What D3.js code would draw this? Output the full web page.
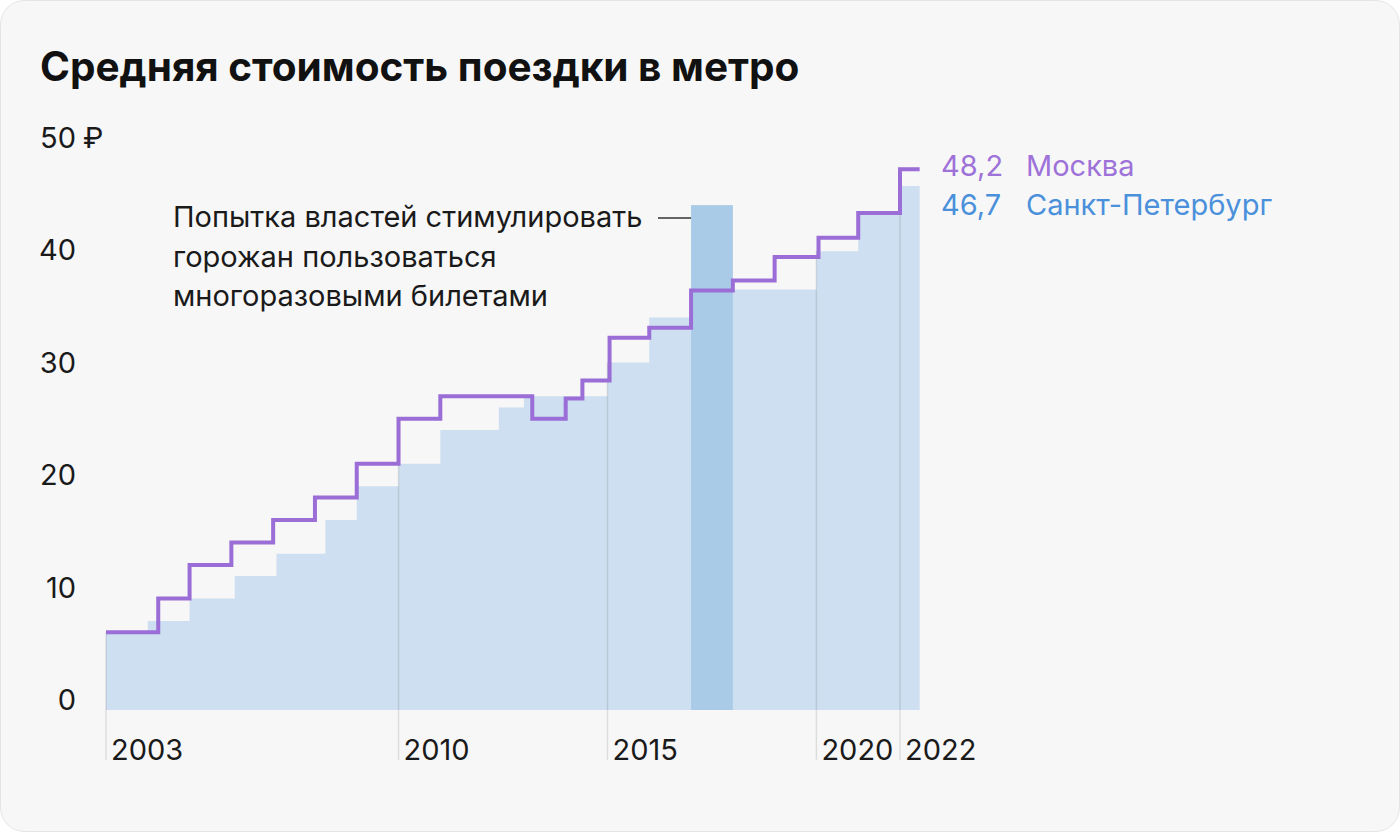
<!DOCTYPE html>
<html>
<head>
<meta charset="utf-8">
<script src="https://cdn.jsdelivr.net/npm/d3@7"></script>
<style>
  html, body { margin: 0; padding: 0; background: #ffffff; }
  svg { display: block; }
  text { font-family: Inter, Roboto, "Noto Sans", sans-serif; }
</style>
</head>
<body>
<svg id="chart" width="1400" height="832"></svg>
<script>
// ---- Data ----
const title = "Средняя стоимость поездки в метро";
const yTicks = [0, 10, 20, 30, 40, 50];
const xTickYears = [2003, 2010, 2015, 2020, 2022];
const endYear = 2022.47;

// Moscow: start of each fare period (decimal year) and fare, ₽
const moscowStart = [2003, 2004.25, 2005, 2006, 2007, 2008, 2009, 2010, 2011, 2013.2, 2014, 2014.4, 2015.05, 2016, 2017, 2018, 2019, 2020.05, 2021, 2022];
const moscowValue = [7, 10, 13, 15, 17, 19, 22, 26, 28, 26, 27.8, 29.4, 33.2, 34.1, 37.4, 38.3, 40.4, 42.1, 44.3, 48.2];

// Saint Petersburg
const spbStart = [2003, 2004, 2005, 2006.08, 2007.08, 2008.25, 2009, 2010, 2011, 2012.4, 2013, 2015, 2016, 2017, 2018, 2020, 2021, 2022];
const spbValue = [7, 8, 10, 12, 14, 17, 20, 22, 25, 27, 28, 31, 35, 45, 37.5, 40.9, 44.2, 46.7];
const spbHighlightIndex = 13;

const annotationLines = ["Попытка властей стимулировать", "горожан пользоваться", "многоразовыми билетами"];
const labels = [
  {value: "48,2", name: "Москва", series: "moscow"},
  {value: "46,7", name: "Санкт-Петербург", series: "spb"}
];

// ---- Styles ----
const colMoscow = "#9b6dd6";
const colMoscowText = "#9e72d9";
const colSpbText = "#4a90db";
const colBar = "#cddff0";
const colBarHi = "#a9cbe8";
const fs = 29;

const svg = d3.select("#chart");

// card
svg.append("rect")
  .attr("x", 0.5).attr("y", 0.5).attr("width", 1399).attr("height", 831)
  .attr("rx", 24).attr("ry", 24)
  .attr("fill", "#f7f7f7").attr("stroke", "#e4e4e4");

const x = d3.scaleLinear().domain([2003, 2022]).range([106, 900]);
const y = d3.scaleLinear().domain([0, 50]).range([711, 149]);

const mPts = moscowStart.map((s, i) => ({x: s, v: moscowValue[i]}));
mPts.push({x: endYear, v: moscowValue[moscowValue.length - 1]});
const sPts = spbStart.map((s, i) => ({x: s, v: spbValue[i]}));
sPts.push({x: endYear, v: spbValue[spbValue.length - 1]});

// SPb area
const area = d3.area().curve(d3.curveStepAfter)
  .x(d => x(d.x)).y0(y(0) - 1).y1(d => y(d.v));
svg.append("path").datum(sPts).attr("d", area).attr("fill", colBar);

// highlighted bar
const hi = spbHighlightIndex;
svg.append("rect")
  .attr("x", x(spbStart[hi]))
  .attr("width", x(spbStart[hi + 1]) - x(spbStart[hi]))
  .attr("y", y(spbValue[hi]))
  .attr("height", y(0) - 1 - y(spbValue[hi]))
  .attr("fill", colBarHi);

function spbAt(t) {
  let v = spbValue[0];
  for (let i = 0; i < spbStart.length; i++) if (spbStart[i] <= t + 1e-6) v = spbValue[i];
  return v;
}

// year tick lines
svg.append("g").selectAll("line").data(xTickYears).join("line")
  .attr("x1", d => x(d)).attr("x2", d => x(d))
  .attr("y1", 760).attr("y2", d => y(spbAt(d)))
  .attr("stroke", "rgba(0,0,0,0.1)").attr("stroke-width", 1.5);

// year labels
svg.append("g").selectAll("text").data(xTickYears).join("text")
  .attr("x", d => x(d) + 5).attr("y", 760)
  .attr("font-size", fs).attr("fill", "#1a1a1a")
  .text(d => d);

// y labels
svg.append("g").selectAll("text").data(yTicks).join("text")
  .attr("x", 76).attr("y", d => y(d) - 1)
  .attr("text-anchor", "end")
  .attr("font-size", fs).attr("fill", "#1a1a1a")
  .text(d => d);
svg.append("text").attr("x", 83).attr("y", y(50) - 1)
  .attr("font-size", fs).attr("fill", "#1a1a1a").text("₽");

// Moscow line
const line = d3.line().curve(d3.curveStepAfter).x(d => x(d.x)).y(d => y(d.v));
svg.append("path").datum(mPts).attr("d", line)
  .attr("fill", "none").attr("stroke", colMoscow)
  .attr("stroke-width", 4).attr("stroke-linejoin", "miter").attr("stroke-linecap", "butt");

// title
svg.append("text").attr("x", 40).attr("y", 81)
  .attr("font-size", 40.5).attr("font-weight", 700).attr("fill", "#111")
  .text(title);

// annotation
svg.append("g").selectAll("text").data(annotationLines).join("text")
  .attr("x", 173).attr("y", (d, i) => 227 + i * 39.5)
  .attr("font-size", fs).attr("fill", "#1a1a1a")
  .text(d => d);
svg.append("line")
  .attr("x1", 658).attr("x2", x(spbStart[hi]))
  .attr("y1", 218).attr("y2", 218)
  .attr("stroke", "#333").attr("stroke-width", 1.5);

// end labels
const labelY = [176, 215];
labels.forEach((l, i) => {
  const c = l.series === "moscow" ? colMoscowText : colSpbText;
  svg.append("text").attr("x", 941).attr("y", labelY[i])
    .attr("font-size", fs).attr("fill", c).text(l.value);
  svg.append("text").attr("x", 1026).attr("y", labelY[i])
    .attr("font-size", fs).attr("fill", c).text(l.name);
});
</script>
</body>
</html>
